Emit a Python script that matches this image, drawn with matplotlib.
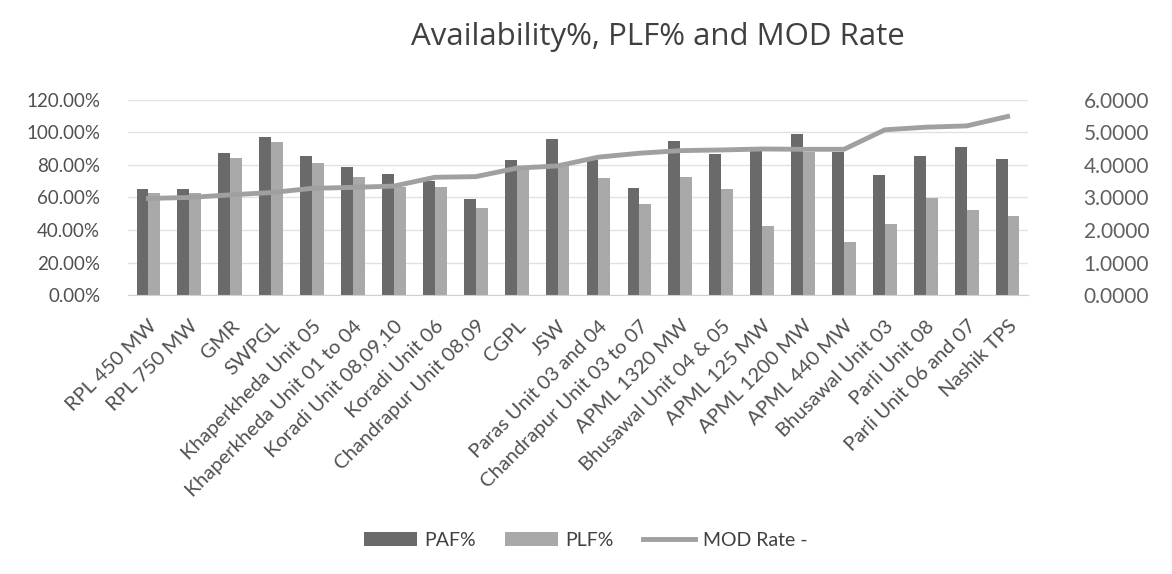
import numpy as np
import matplotlib.pyplot as plt
from matplotlib.ticker import FuncFormatter

plants = ['RPL 450 MW', 'RPL 750 MW', 'GMR', 'SWPGL', 'Khaperkheda Unit 05',
          'Khaperkheda Unit 01 to 04', 'Koradi Unit 08,09,10', 'Koradi Unit 06',
          'Chandrapur Unit 08,09', 'CGPL', 'JSW', 'Paras Unit 03 and 04',
          'Chandrapur Unit 03 to 07', 'APML 1320 MW', 'Bhusawal Unit 04 & 05',
          'APML 125 MW', 'APML 1200 MW', 'APML 440 MW', 'Bhusawal Unit 03',
          'Parli Unit 08', 'Parli Unit 06 and 07', 'Nashik TPS']
paf = [65.2, 65.0, 87.6, 97.4, 85.5, 78.6, 74.5, 70.0, 59.0, 83.0, 95.8, 83.0,
       65.6, 94.8, 87.0, 90.2, 98.9, 88.2, 73.8, 85.7, 90.9, 83.7]
plf = [62.6, 62.5, 84.0, 94.0, 81.0, 72.4, 66.7, 66.3, 53.3, 79.0, 80.0, 71.8,
       56.0, 72.8, 65.0, 42.7, 88.2, 32.4, 43.7, 59.9, 52.3, 48.6]
mod_rate = [2.97, 3.00, 3.08, 3.15, 3.28, 3.31, 3.35, 3.62, 3.64, 3.90, 3.97, 4.24,
            4.36, 4.44, 4.46, 4.49, 4.48, 4.48, 5.08, 5.16, 5.20, 5.49]

plt.rcParams['font.family'] = ['Lato', 'DejaVu Sans']

fig = plt.figure(figsize=(11.72, 5.74), dpi=100)
ax = fig.add_axes([0.1092, 0.486, 0.768, 0.340])
x = np.arange(len(plants))
w = 0.29
ax.bar(x - w / 2, paf, w, color='#6a6a6a', label='PAF%', zorder=2)
ax.bar(x + w / 2, plf, w, color='#a9a9a9', label='PLF%', zorder=2)
ax.set_xlim(-0.5, len(plants) - 0.5)
ax.set_ylim(0, 120)
ax.set_yticks(np.arange(0, 121, 20))
ax.yaxis.set_major_formatter(FuncFormatter(lambda v, p: f'{v:.2f}%'))
ax.grid(axis='y', color='#e2e2e2', linewidth=1, zorder=0)
ax.set_xticks(x)
ax.set_xticklabels(plants, rotation=45, ha='right', rotation_mode='anchor')
for s in ax.spines.values():
    s.set_visible(False)
ax.spines['bottom'].set_visible(True)
ax.spines['bottom'].set_color('#d0d0d0')
ax.tick_params(length=0, labelsize=13.5, colors='#505050')
ax.tick_params(axis='y', pad=20)
ax.tick_params(axis='x', pad=16, labelsize=14.5)

ax2 = ax.twinx()
ax2.plot(x, mod_rate, color='#a0a0a0', linewidth=3.5, label='MOD Rate -', zorder=3)
ax2.set_ylim(0, 6)
ax2.set_yticks(np.arange(0, 7, 1))
ax2.yaxis.set_major_formatter(FuncFormatter(lambda v, p: f'{v:.4f}'))
for s in ax2.spines.values():
    s.set_visible(False)
ax2.tick_params(length=0, labelsize=15, colors='#606060', pad=40)

fig.text(0.561, 1 - 45 / 574, 'Availability%, PLF% and MOD Rate', ha='center', va='baseline',
         fontsize=22.5, color='#404040', family=['Open Sans', 'DejaVu Sans'])

h1, l1 = ax.get_legend_handles_labels()
h2, l2 = ax2.get_legend_handles_labels()
fig.legend(h1 + h2, l1 + l2, loc='center', bbox_to_anchor=(0.5, 1 - 540 / 574), ncol=3,
           frameon=False, fontsize=14, handlelength=2.7, handletextpad=0.4,
           columnspacing=1.5, labelcolor='#404040')

fig.savefig('out.png', dpi=100)
